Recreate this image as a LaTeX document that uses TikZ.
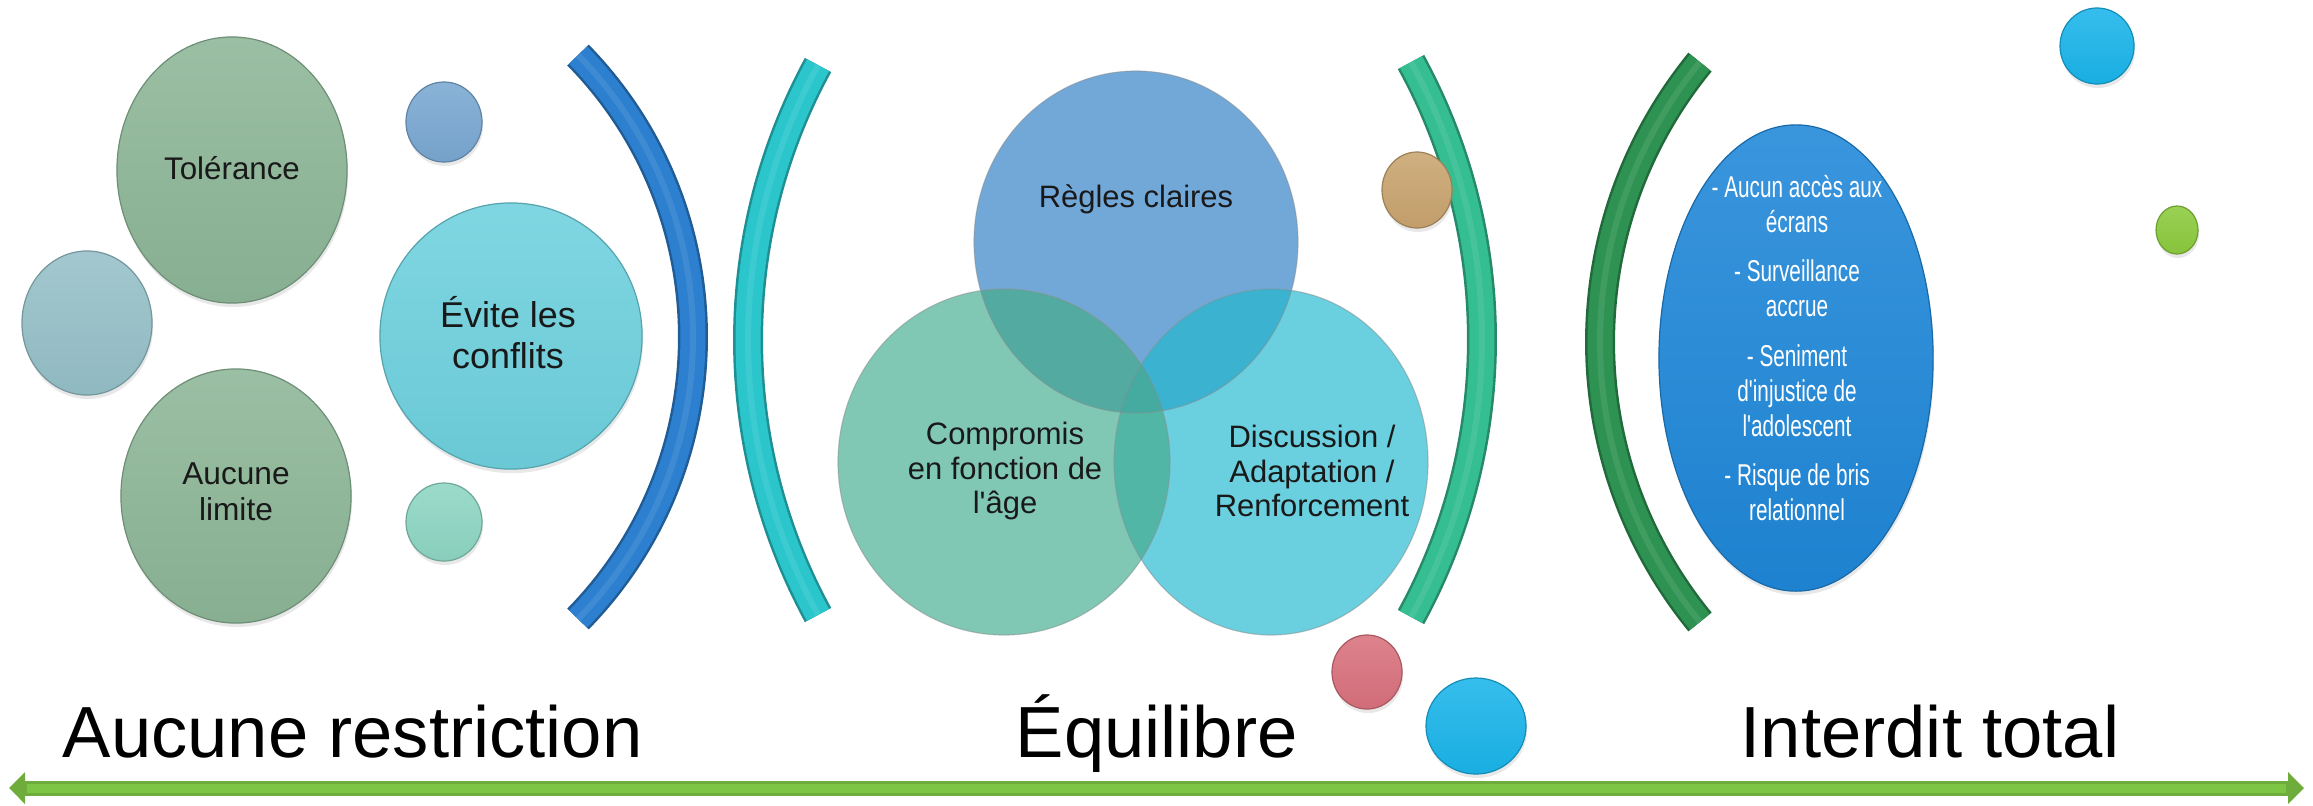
\documentclass[tikz,border=0pt]{standalone}
\usepackage{graphicx}
\usepackage{fontspec}
\setmainfont{Liberation Sans}[Ligatures=TeXOff]
\usetikzlibrary{shapes.geometric,shadows,arrows.meta}
\definecolor{sage}{HTML}{8DB697}
\definecolor{steel}{HTML}{7AA8D2}
\definecolor{greyteal}{HTML}{96C0C8}
\definecolor{cyanl}{HTML}{6ED1DE}
\definecolor{mint}{HTML}{8ED6C3}
\definecolor{brblue}{HTML}{2D80CF}
\definecolor{brcyan}{HTML}{2AC6CC}
\definecolor{brteal}{HTML}{35BE92}
\definecolor{brgreen}{HTML}{2E9352}
\definecolor{vblue}{HTML}{72A8D8}
\definecolor{vgreen}{HTML}{80C8B4}
\definecolor{vcyan}{HTML}{6ACFDE}
\definecolor{ovRC}{HTML}{52AAA0}
\definecolor{ovRD}{HTML}{3BB2CF}
\definecolor{ovCD}{HTML}{52B6A6}
\definecolor{ovAll}{HTML}{45AA9F}
\definecolor{brownc}{HTML}{C9A46F}
\definecolor{bigblue}{HTML}{1F87D8}
\definecolor{trcyan}{HTML}{1AB5EA}
\definecolor{lgreen}{HTML}{8CCB3E}
\definecolor{rose}{HTML}{D9717D}
\definecolor{arrowg}{HTML}{7DC544}
\begin{document}
\begin{tikzpicture}[x=0.01cm,y=-0.01cm,
  bub/.style={ellipse, inner sep=0pt, top color=#1!88!white, bottom color=#1!96!black,
    draw=#1!78!black, line width=0.012cm,
    drop shadow={shadow xshift=0.01cm, shadow yshift=-0.04cm, opacity=0.18}},
  ven/.style={ellipse, inner sep=0pt, fill=#1},
  venline/.style={draw=black!45, draw opacity=0.45, line width=0.012cm},
  txt/.style={align=center, text=black!90, inner sep=0pt},
  bigl/.style={anchor=base west, inner sep=0pt, font=\fontsize{20.6pt}{24pt}\selectfont},
  brkout/.style={line width=0.30cm, draw=#1!72!black},
  brk/.style={line width=0.25cm, draw=#1},
  brkhi/.style={line width=0.06cm, draw=#1!65!white, draw opacity=0.25},
]
\useasboundingbox (0,0) rectangle (2313,805);

% left group
\node[bub=sage, minimum width=2.30cm, minimum height=2.66cm] (cTol) at (232,170) {};
\node[bub=steel, minimum width=0.76cm, minimum height=0.80cm] (cSmT) at (444,122) {};
\node[bub=greyteal, minimum width=1.30cm, minimum height=1.44cm] (cLeft) at (87,323) {};
\node[bub=cyanl, minimum width=2.62cm, minimum height=2.66cm] (cEvi) at (511,336) {};
\node[bub=sage, minimum width=2.30cm, minimum height=2.54cm] (cAuc) at (236,496) {};
\node[bub=mint, minimum width=0.76cm, minimum height=0.78cm] (cSmB) at (444,522) {};

% brackets
\foreach \c/\cx/\cy/\r/\a/\b in {brblue/289.7/337/403.3/-44.36/44.36,
    brcyan/1323.2/340/575.2/151.44/208.56,
    brteal/904.2/339.5/577.8/-28.7/28.7,
    brgreen/2042/342/442/140.7/219.3}{
  \draw[brkout=\c] (\cx,\cy) ++(\a:\r) arc[start angle=\a, end angle=\b, radius=\r];
  \draw[brk=\c] (\cx,\cy) ++(\a:\r) arc[start angle=\a, end angle=\b, radius=\r];
  \draw[brkhi=\c] (\cx,\cy) ++(\a:\r) arc[start angle=\a, end angle=\b, radius=\r];
}

% venn
\node[ven=vblue, minimum width=3.24cm, minimum height=3.42cm] (cReg) at (1136,242) {};
\node[ven=vgreen, minimum width=3.32cm, minimum height=3.46cm] (cCom) at (1004,462) {};
\node[ven=vcyan, minimum width=3.14cm, minimum height=3.46cm] (cDis) at (1271,462) {};
\begin{scope}
  \clip (cReg.center) ellipse [x radius=162, y radius=171];
  \fill[ovRC] (cCom.center) ellipse [x radius=166, y radius=173];
  \fill[ovRD] (cDis.center) ellipse [x radius=157, y radius=173];
  \clip (cCom.center) ellipse [x radius=166, y radius=173];
  \fill[ovAll] (cDis.center) ellipse [x radius=157, y radius=173];
\end{scope}
\begin{scope}
  \clip (cCom.center) ellipse [x radius=166, y radius=173];
  \clip (cDis.center) ellipse [x radius=157, y radius=173];
  \fill[ovCD] (cCom.center) ellipse [x radius=400, y radius=400];
  \fill[ovAll] (cReg.center) ellipse [x radius=162, y radius=171];
\end{scope}
\draw[venline] (cReg.center) ellipse [x radius=162, y radius=171];
\draw[venline] (cCom.center) ellipse [x radius=166, y radius=173];
\draw[venline] (cDis.center) ellipse [x radius=157, y radius=173];

% other bubbles
\node[bub=brownc, minimum width=0.70cm, minimum height=0.76cm] (cBrown) at (1417,190) {};
\node[bub=bigblue, minimum width=2.74cm, minimum height=4.66cm] (cBig) at (1796,358) {};
\node[bub=trcyan, minimum width=0.74cm, minimum height=0.76cm] (cTR) at (2097,46) {};
\node[bub=lgreen, minimum width=0.42cm, minimum height=0.48cm] (cGreen) at (2177,230) {};
\node[bub=rose, minimum width=0.70cm, minimum height=0.74cm] (cRed) at (1367,672) {};
\node[bub=trcyan, minimum width=1.00cm, minimum height=0.96cm] (cCyB) at (1476,726) {};

% texts
\node[txt, font=\fontsize{8.9pt}{10.2pt}\selectfont] (tTol) at (232,168) {Tolérance};
\node[txt, font=\fontsize{10.2pt}{11.6pt}\selectfont] (tEvi) at (508,333) {Évite les\\conflits};
\node[txt, font=\fontsize{9pt}{10.2pt}\selectfont] (tAuc) at (236,492) {Aucune\\limite};
\node[txt, font=\fontsize{8.8pt}{9.8pt}\selectfont] (tReg) at (1136,199) {Règles claires};
\node[txt, font=\fontsize{8.8pt}{9.9pt}\selectfont] (tCom) at (1005,471) {Compromis\\en fonction de\\l'âge};
\node[txt, font=\fontsize{8.8pt}{9.9pt}\selectfont] (tDis) at (1312,471) {Discussion /\\Adaptation /\\Renforcement};
\node[inner sep=0pt, text=white] (tBig) at (1797,352) {\scalebox{1}[1.45]{\fontsize{5.9pt}{6.87pt}\selectfont
  \begin{tabular}{@{}c@{}}- Aucun accès aux\\écrans\\[2.75pt]- Surveillance\\accrue\\[2.75pt]- Seniment\\d'injustice de\\l'adolescent\\[2.75pt]- Risque de bris\\relationnel\end{tabular}}};

\node[bigl] (lA) at (62,757) {Aucune restriction};
\node[bigl] (lE) at (1015,757) {Équilibre};
\node[bigl] (lI) at (1740,757) {Interdit total};

% bottom double arrow
\coordinate (aL) at (9,788);
\coordinate (aR) at (2304,788);
\draw[line width=0.15cm, draw=arrowg!88!black,
  {Triangle[length=0.16cm,width=0.31cm]}-{Triangle[length=0.16cm,width=0.31cm]}] (aL) -- (aR);
\draw[line width=0.09cm, draw=arrowg, shorten <=0.18cm, shorten >=0.18cm] (aL) -- (aR);
\end{tikzpicture}
\end{document}
